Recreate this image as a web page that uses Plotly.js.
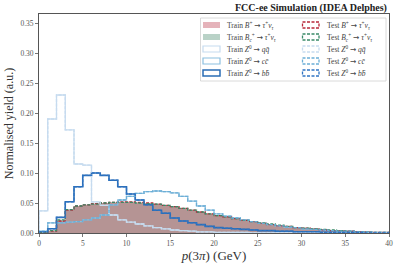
<!DOCTYPE html>
<html><head><meta charset="utf-8">
<script src="https://cdn.plot.ly/plotly-3.0.1.min.js"></script>
<style>html,body{margin:0;padding:0;background:#fff}#chart{width:399px;height:266px}</style>
</head><body><div id="chart"></div>
<script>
// ---- data (1 GeV bins from 0 to 40) ----
const binEdges = [0,1,2,3,4,5,6,7,8,9,10,11,12,13,14,15,16,17,18,19,20,21,22,23,24,25,26,27,28,29,30,31,32,33,34,35,36,37,38,39,40];
const trainBplus = [0.000,0.003,0.020,0.038,0.045,0.047,0.049,0.050,0.051,0.052,0.052,0.051,0.050,0.048,0.046,0.044,0.041,0.038,0.035,0.032,0.029,0.027,0.024,0.021,0.019,0.016,0.014,0.012,0.011,0.009,0.008,0.007,0.005,0.004,0.004,0.003,0.002,0.002,0.001,0.001];
const trainBc    = [0.000,0.004,0.022,0.039,0.045,0.047,0.048,0.050,0.051,0.051,0.051,0.050,0.049,0.048,0.046,0.044,0.041,0.038,0.035,0.032,0.029,0.027,0.024,0.021,0.019,0.017,0.015,0.013,0.011,0.009,0.008,0.007,0.006,0.005,0.004,0.003,0.002,0.002,0.001,0.001];
const trainZqq   = [0.037,0.190,0.230,0.172,0.115,0.113,0.052,0.046,0.030,0.022,0.018,0.015,0.012,0.009,0.007,0.005,0.004,0.003,0.002,0.002,0.001,0.001,0.001,0.001,0.000,0.000,0.000,0.000,0.000,0.000,0.000,0.000,0.000,0.000,0.000,0.000,0.000,0.000,0.000,0.000];
const trainZcc   = [0.003,0.017,0.017,0.018,0.019,0.022,0.025,0.030,0.047,0.055,0.061,0.066,0.069,0.070,0.069,0.067,0.061,0.053,0.045,0.038,0.032,0.028,0.025,0.022,0.019,0.016,0.014,0.012,0.010,0.009,0.007,0.006,0.005,0.004,0.003,0.003,0.002,0.002,0.001,0.001];
const trainZbb   = [0.002,0.007,0.026,0.052,0.077,0.096,0.100,0.096,0.088,0.077,0.065,0.055,0.047,0.038,0.033,0.025,0.020,0.017,0.014,0.011,0.009,0.008,0.007,0.006,0.005,0.004,0.004,0.003,0.003,0.002,0.002,0.002,0.001,0.001,0.001,0.001,0.001,0.000,0.000,0.000];
const testBplus = trainBplus, testBc = trainBc, testZqq = trainZqq, testZcc = trainZcc, testZbb = trainZbb;
const xTicks = [0,5,10,15,20,25,30,35,40];
const yTicks = [0.00,0.05,0.10,0.15,0.20,0.25,0.30,0.35];
const AR = '<span style="font-family:DejaVu Sans">→</span>';
const legendLabels = [
  ['Train <i>B</i><sup>+</sup> '+AR+' <i>τ</i><sup>+</sup><i>ν</i><sub><i>τ</i></sub>', 'Test <i>B</i><sup>+</sup> '+AR+' <i>τ</i><sup>+</sup><i>ν</i><sub><i>τ</i></sub>'],
  ['Train <i>B</i><sub><i>c</i></sub><sup>+</sup> '+AR+' <i>τ</i><sup>+</sup><i>ν</i><sub><i>τ</i></sub>', 'Test <i>B</i><sub><i>c</i></sub><sup>+</sup> '+AR+' <i>τ</i><sup>+</sup><i>ν</i><sub><i>τ</i></sub>'],
  ['Train <i>Z</i><sup>0</sup> '+AR+' <i>qq̄</i>', 'Test <i>Z</i><sup>0</sup> '+AR+' <i>qq̄</i>'],
  ['Train <i>Z</i><sup>0</sup> '+AR+' <i>cc̄</i>', 'Test <i>Z</i><sup>0</sup> '+AR+' <i>cc̄</i>'],
  ['Train <i>Z</i><sup>0</sup> '+AR+' <i>bb̄</i>', 'Test <i>Z</i><sup>0</sup> '+AR+' <i>bb̄</i>']
];

// ---- styling ----
const C = {
  bpFill:'rgba(175,20,40,0.32)', bcFill:'rgba(55,126,95,0.35)',
  bpTest:'#b8283a', bcTest:'#3a8a68',
  qq:'#c6dbef', cc:'#8cc0e0', bb:'#2a6db5',
  qqT:'#c6dbef', ccT:'#6baed6', bbT:'#2f74c4'
};
function stepXY(vals){
  const x=[binEdges[0]], y=[0];
  for(let i=0;i<vals.length;i++){ x.push(binEdges[i]); y.push(vals[i]); }
  x.push(binEdges[binEdges.length-1]); y.push(vals[vals.length-1]);
  x.push(binEdges[binEdges.length-1]); y.push(0);
  return {x,y};
}
function stepTrace(vals,color,width,dash,fill,fillcolor){
  const s=stepXY(vals);
  const t={type:'scatter',mode:'lines',x:s.x,y:s.y,line:{shape:'hv',color:color,width:width,dash:dash||'solid'},showlegend:false,hoverinfo:'skip'};
  if(fill){t.fill='tozeroy';t.fillcolor=fillcolor;}
  return t;
}
const traces=[
  stepTrace(trainBc,'rgba(0,0,0,0)',0,'solid',true,C.bcFill),
  stepTrace(trainBplus,'rgba(0,0,0,0)',0,'solid',true,C.bpFill),
  stepTrace(trainZqq,C.qq,1.3),
  stepTrace(trainZcc,C.cc,1.3),
  stepTrace(trainZbb,C.bb,1.6),
  stepTrace(testBplus,C.bpTest,1.3,'3px,1.5px'),
  stepTrace(testBc,C.bcTest,1.3,'3px,1.5px'),
  stepTrace(testZqq,C.qqT,1.3,'3px,1.5px'),
  stepTrace(testZcc,C.ccT,1.3,'3px,1.5px'),
  stepTrace(testZbb,C.bbT,1.3,'3px,1.5px')
];

// ---- custom legend (matplotlib style) ----
const W=399,H=266,L=39,R=389,T=14,B=233;
const px=v=>(v-L)/(R-L), py=v=>(B-v)/(B-T);
const shapes=[], annotations=[];
shapes.push({type:'rect',xref:'paper',yref:'paper',x0:px(200.5),x1:px(386),y0:py(81),y1:py(18),line:{color:'#d0d0d0',width:0.8},fillcolor:'rgba(255,255,255,0.8)',layer:'above'});
const rowsY=[25,37,49,61,73];
const leftPatch=[
  {fill:C.bpFill,line:'rgba(0,0,0,0)',dash:'solid',w:0},
  {fill:C.bcFill,line:'rgba(0,0,0,0)',dash:'solid',w:0},
  {fill:'rgba(0,0,0,0)',line:C.qq,dash:'solid',w:1.2},
  {fill:'rgba(0,0,0,0)',line:C.cc,dash:'solid',w:1.2},
  {fill:'rgba(0,0,0,0)',line:C.bb,dash:'solid',w:1.5}
];
const rightPatch=[C.bpTest,C.bcTest,C.qqT,C.ccT,C.bbT];
rowsY.forEach((y,i)=>{
  const lp=leftPatch[i];
  shapes.push({type:'rect',xref:'paper',yref:'paper',x0:px(203),x1:px(220),y0:py(y+3),y1:py(y-3),fillcolor:lp.fill,line:{color:lp.line,width:lp.w},layer:'above'});
  shapes.push({type:'rect',xref:'paper',yref:'paper',x0:px(302.5),x1:px(319),y0:py(y+3),y1:py(y-3),fillcolor:'rgba(0,0,0,0)',line:{color:rightPatch[i],width:1.3,dash:'3px,1.5px'},layer:'above'});
  annotations.push({xref:'paper',yref:'paper',x:px(225),y:py(y),xanchor:'left',yanchor:'middle',text:legendLabels[i][0],showarrow:false,font:{family:'Liberation Serif, serif',size:7.5,color:'#444'}});
  annotations.push({xref:'paper',yref:'paper',x:px(325),y:py(y),xanchor:'left',yanchor:'middle',text:legendLabels[i][1],showarrow:false,font:{family:'Liberation Serif, serif',size:7.5,color:'#444'}});
});
annotations.push({xref:'paper',yref:'paper',x:1,y:py(8),xanchor:'right',yanchor:'middle',text:'<b>FCC-ee Simulation (IDEA Delphes)</b>',showarrow:false,font:{family:'Liberation Serif, serif',size:10,color:'#222'}});

const axisCommon={showgrid:false,zeroline:false,showline:true,mirror:true,linecolor:'#555',linewidth:1,ticks:'outside',ticklen:3,tickwidth:0.8,tickcolor:'#555',tickfont:{family:'Liberation Serif, serif',size:7.5,color:'#555'}};
const layout={
  width:W,height:H,margin:{l:L,r:W-R,t:T,b:H-B},paper_bgcolor:'#fff',plot_bgcolor:'#fff',
  showlegend:false,
  xaxis:Object.assign({},axisCommon,{range:[0,40],tickvals:xTicks,ticktext:xTicks.map(String),title:{text:'<i>p</i>(3<i>π</i>) (GeV)',font:{family:'Liberation Serif, serif',size:13,color:'#333'},standoff:1}}),
  yaxis:Object.assign({},axisCommon,{range:[0,0.365],tickvals:yTicks,ticktext:yTicks.map(v=>v.toFixed(2)),title:{text:'Normalised yield (a.u.)',font:{family:'Liberation Serif, serif',size:12,color:'#333'},standoff:4}}),
  shapes:shapes,annotations:annotations
};
Plotly.newPlot('chart',traces,layout,{staticPlot:true,displayModeBar:false});
</script></body></html>
